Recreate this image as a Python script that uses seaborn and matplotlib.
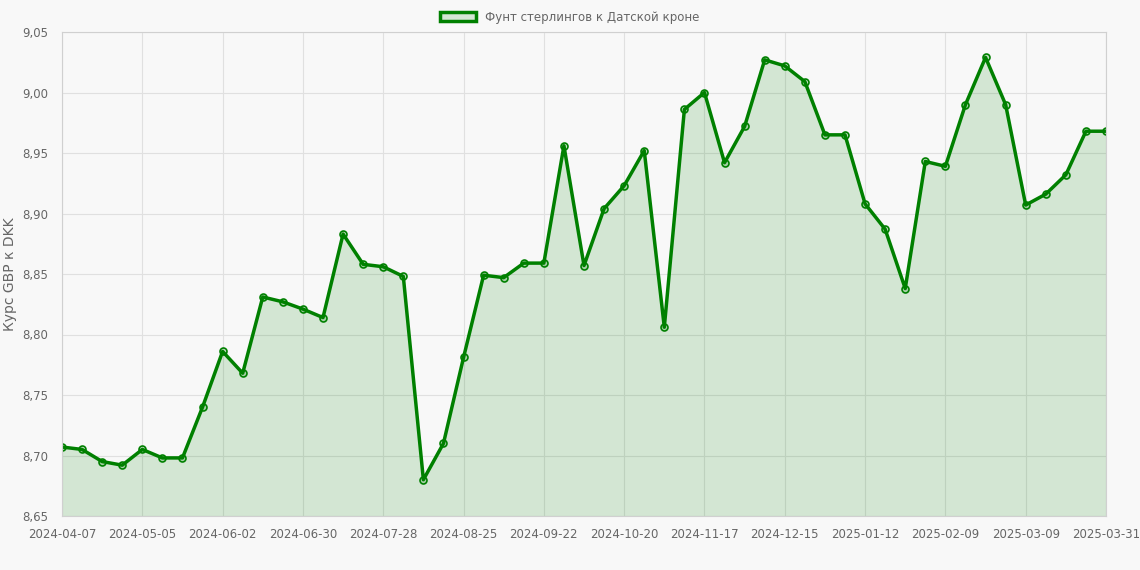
import pandas as pd
import seaborn as sns
import matplotlib.pyplot as plt
from matplotlib.patches import Patch

rates = [8.707, 8.705, 8.695, 8.692, 8.705, 8.698, 8.698, 8.740, 8.786, 8.768,
         8.831, 8.827, 8.821, 8.814, 8.883, 8.858, 8.856, 8.848, 8.680, 8.710,
         8.781, 8.849, 8.847, 8.859, 8.859, 8.956, 8.857, 8.904, 8.923, 8.952,
         8.806, 8.986, 9.000, 8.942, 8.972, 9.027, 9.022, 9.009, 8.965, 8.965,
         8.908, 8.887, 8.838, 8.943, 8.939, 8.990, 9.029, 8.990, 8.907, 8.916,
         8.932, 8.968, 8.968]
tick_labels = ["2024-04-07", "2024-05-05", "2024-06-02", "2024-06-30", "2024-07-28",
               "2024-08-25", "2024-09-22", "2024-10-20", "2024-11-17", "2024-12-15",
               "2025-01-12", "2025-02-09", "2025-03-09", "2025-03-31"]
tick_pos = list(range(0, 49, 4)) + [52]

df = pd.DataFrame({"i": range(len(rates)), "rate": rates})

sns.set_style("whitegrid")
plt.rcParams['font.family'] = ['DejaVu Sans']
fig = plt.figure(figsize=(11.4, 5.7), dpi=100, facecolor="#f8f8f8")
ax = fig.add_axes([62 / 1140, 1 - 516 / 570, (1106 - 62) / 1140, (516 - 32) / 570])
ax.set_facecolor("#f8f8f8")

ax.fill_between(df["i"], rates, 8.65, color="#008000", alpha=0.15, linewidth=0)
sns.lineplot(data=df, x="i", y="rate", ax=ax, color="#008000", linewidth=2.5,
             marker="o", markersize=5, markerfacecolor=(0, 0.5, 0, 0.2),
             markeredgecolor="#008000", markeredgewidth=1.2)

ax.set_xlim(0, 52)
ax.set_ylim(8.65, 9.05)
ax.set_xticks(tick_pos)
ax.set_xticklabels(tick_labels)
yt = [8.65 + 0.05 * k for k in range(9)]
ax.set_yticks(yt)
ax.set_yticklabels([f"{v:.2f}".replace(".", ",") for v in yt])
ax.tick_params(labelsize=8.5, colors="#666666", length=0)
ax.tick_params(axis="x", pad=9)
ax.tick_params(axis="y", pad=10)
ax.set_xlabel("")
ax.set_ylabel("Курс GBP к DKK", color="#666666", fontsize=10, labelpad=4)
ax.grid(color="#e0e0e0", linewidth=0.8)
for s in ax.spines.values():
    s.set_color("#d0d0d0")

handle = Patch(facecolor=(0, 0.5, 0, 0.15), edgecolor="#008000", linewidth=2.5)
fig.legend([handle], ["Фунт стерлингов к Датской кроне"], loc="upper center",
           bbox_to_anchor=(0.5, 1.0), frameon=False, fontsize=8.5,
           labelcolor="#666666", handlelength=3, handleheight=0.9)

fig.savefig("out.png", dpi=100, facecolor=fig.get_facecolor())
